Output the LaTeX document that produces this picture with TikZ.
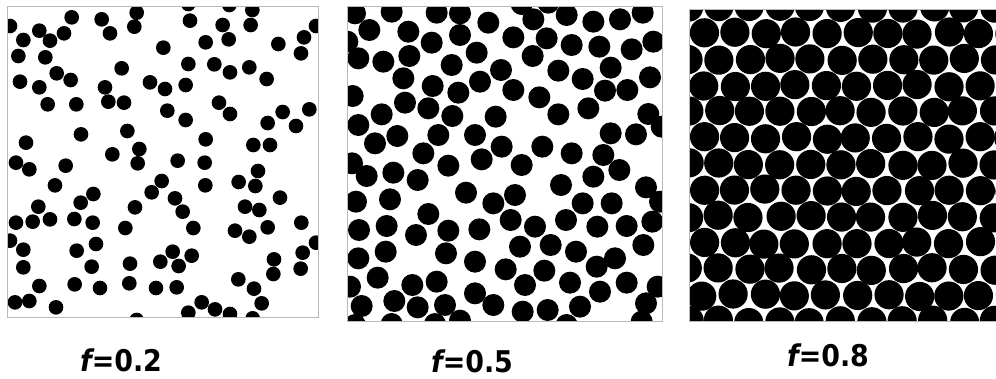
\documentclass[tikz,border=0pt]{standalone}
\usepackage{fontspec}
\newfontfamily\labfont{DejaVu Sans Condensed}[BoldFont={* Bold},BoldItalicFont={* Bold Oblique}]
\begin{document}
\begin{tikzpicture}[x=1bp,y=-1bp,
  frame/.style={draw=gray!55,line width=0.9bp},
  disk/.style={fill=black},
  lab/.style={anchor=base,font=\labfont\bfseries\fontsize{30}{36}\selectfont}]
\useasboundingbox (0,0) rectangle (996,378);
% ---------------- panel 1: f=0.2
\begin{scope}
\clip (7,6) rectangle (318,317);
\begin{scope}[scale=1/3]
\foreach \a/\b in {30/78, 215/52, 305/58, 410/38, 403/80, 565/12, 570/62, 688/15, 757/30, 752/75, 668/75, 686/118, 617/127, 948/78, 912/112, 903/160, 835/132, 490/143, 330/100, 118/92, 150/122, 192/100, 70/120, 55/168, 136/172,
365/205, 565/192, 643/193, 690/217, 748/202, 800/237, 170/220, 212/240, 60/245, 118/262, 315/262, 450/247, 495/267, 557/255, 143/313, 229/313, 325/305, 372/308, 502/332, 557/360, 657/308, 690/342, 848/336, 928/328, 803/369, 888/378,
243/403, 382/393, 78/428, 418/447, 337/463, 617/418, 760/435, 810/435, 48/488, 88/508, 197/497, 413/490, 533/482, 614/488, 774/513, 485/543, 455/577, 165/556, 616/556, 716/546, 766/558, 840/593, 280/582, 242/608, 115/620, 525/595, 405/622, 548/635, 735/620, 778/630, 48/668, 98/665, 150/658, 223/657, 278/668, 376/684, 580/684, 705/692, 748/710, 803/682, 904/668, 30/722, 70/749, 230/752, 288/732, 948/728, 908/758, 70/802, 275/800, 390/791, 481/785, 518/755, 536/798, 575/767, 822/778, 820/822, 902/806, 118/858, 224/853, 300/864, 388/850, 468/864, 530/862, 715/838, 762/866, 45/907, 88/903, 168/922, 605/907, 645/928, 785/910, 690/942, 758/955, 565/938, 410/960}
  \fill[disk] (\a,\b) circle (22);
\end{scope}
\end{scope}
\draw[frame] (7,6) rectangle (318,317);
% ---------------- panel 2: f=0.5
\begin{scope}
\clip (347,6) rectangle (662.5,321.5);
\begin{scope}[shift={(340,0)},scale=1/3]
\foreach \a/\b in {45/40, 155/35, 290/38, 360/40, 545/12, 625/8, 580/58, 445/68, 680/45, 760/65, 840/58, 908/38,
88/90, 205/95, 275/128, 360/105, 410/158, 520/112, 620/115, 695/135, 778/140, 875/148, 940/125, 22/125,
55/175, 130/185, 208/168, 335/195, 578/168, 483/210, 420/245, 655/212, 728/237, 812/203, 930/232, 190/235, 278/258, 355/278, 520/270, 598/292, 795/272, 862/270, 38/288,
195/308, 265/325, 337/348, 467/350, 655/343, 745/325, 925/342, 125/343, 55/375, 105/430, 172/408, 295/405, 405/405, 485/440, 607/440, 695/460, 812/400, 888/403, 965/380,
250/460, 325/497, 425/478, 545/495, 790/465, 838/510, 36/490, 80/528, 160/518, 233/540, 760/530, 663/555, 918/562, 378/578, 460/610, 525/585, 150/598, 48/605, 265/642, 728/610, 815/610, 960/605,
57/690, 140/678, 228/705, 325/692, 418/688, 512/660, 585/680, 678/660, 772/680, 860/678, 937/665, 540/740, 632/735, 708/755, 825/775, 910/735, 137/755, 318/760, 55/775, 405/785, 497/808, 613/812, 770/800,
113/833, 217/855, 290/845, 405/880, 555/855, 690/848, 780/875, 860/848, 953/860, 30/860, 65/918, 163/903, 233/922, 315/915, 460/915, 548/935, 623/930, 720/920, 918/910,
45/975, 155/972, 285/972, 360/962, 680/975, 905/965}
  \fill[disk] (\a,\b) circle (33);
\end{scope}
\end{scope}
\draw[frame] (347,6) rectangle (662.5,321.5);
% ---------------- panel 3: f=0.8
\begin{scope}
\clip (689,9) rectangle (996,321);
\pgfmathsetseed{11}
\foreach \j in {0,...,12}{
  \foreach \i in {0,...,10}{
    \pgfmathsetmacro{\xo}{mod(\j,2)==1 ? 703.3 : 687.6}
    \pgfmathsetmacro{\xx}{\xo+30.7*\i+1.6*rand}
    \pgfmathsetmacro{\yy}{7+26.2*\j+1.4*rand}
    \fill[disk] (\xx,\yy) circle (14.6);
  }
}
\end{scope}
\draw[frame] (689,9) rectangle (996,321);
% ---------------- labels
\node[lab] (l1) at (121,371.7) {\itshape f\upshape =0.2};
\node[lab] (l2) at (472,372.5) {\itshape f\upshape =0.5};
\node[lab] (l3) at (828,366) {\itshape f\upshape =0.8};
\end{tikzpicture}
\end{document}
